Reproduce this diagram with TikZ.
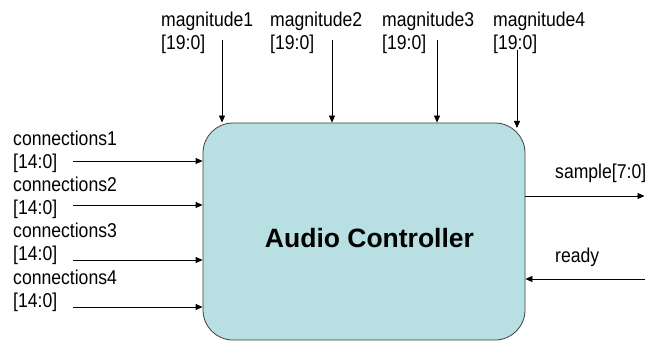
\documentclass[tikz,border=0pt]{standalone}
\usepackage{fontspec}
\setmainfont{Liberation Sans}[FakeStretch=0.88]
\newfontfamily\titlefont{Liberation Sans}
\usetikzlibrary{arrows.meta}
\definecolor{boxfill}{HTML}{B8DFE2}
\definecolor{boxline}{HTML}{404040}
\tikzset{
  sig/.style={line width=0.8pt, -{Triangle[length=7pt,width=6pt]}},
  port/.style={anchor=base west, inner sep=0pt, align=left, font=\fontsize{20}{23}\selectfont},
}
\begin{document}
\begin{tikzpicture}[x=1pt, y=1pt]
        \useasboundingbox (0,0) rectangle (645,-342);
        % the controller block
        \node[draw=boxline, fill=boxfill, line width=0.8pt, rounded corners=30pt,
              minimum width=322pt, minimum height=217pt] (ctrl) at (364,-231.5) {};
        \node[font=\titlefont\bfseries\fontsize{26.5}{30}\selectfont] (title) at (369.5,-238) {Audio Controller};
        % magnitude inputs
        \node[port] (mag1) at (161,-50) {magnitude1\\{}[19:0]};
        \node[port] (mag2) at (270,-50) {magnitude2\\{}[19:0]};
        \node[port] (mag3) at (382,-50) {magnitude3\\{}[19:0]};
        \node[port] (mag4) at (493,-50) {magnitude4\\{}[19:0]};
        \coordinate (m1s) at (222,-40);
        \coordinate (m2s) at (332,-40);
        \coordinate (m3s) at (437,-40);
        \coordinate (m4s) at (517,-50);
        \coordinate (m4e) at (517,-128);
        \draw[sig] (m1s) -- (m1s |- ctrl.north);
        \draw[sig] (m2s) -- (m2s |- ctrl.north);
        \draw[sig] (m3s) -- (m3s |- ctrl.north);
        \draw[sig] (m4s) -- (m4e);
        % connection inputs
        \node[port] (con1) at (13,-168) {connections1\\{}[14:0]};
        \node[port] (con2) at (13,-214) {connections2\\{}[14:0]};
        \node[port] (con3) at (13,-260) {connections3\\{}[14:0]};
        \node[port] (con4) at (13,-307) {connections4\\{}[14:0]};
        \coordinate (c1s) at (73,-161);
        \coordinate (c2s) at (73,-205);
        \coordinate (c3s) at (73,-260);
        \coordinate (c4s) at (73,-307);
        \draw[sig] (c1s) -- (c1s -| ctrl.west);
        \draw[sig] (c2s) -- (c2s -| ctrl.west);
        \draw[sig] (c3s) -- (c3s -| ctrl.west);
        \draw[sig] (c4s) -- (c4s -| ctrl.west);
        % outputs and handshake
        \node[port] (sample) at (555,-178) {sample[7:0]};
        \node[port] (ready) at (555,-262) {ready};
        \coordinate (sampleend) at (644.5,-196);
        \coordinate (readystart) at (645,-279);
        \draw[sig] (sampleend -| ctrl.east) -- (sampleend);
        \draw[sig] (readystart) -- (readystart -| ctrl.east);
\end{tikzpicture}
\end{document}
